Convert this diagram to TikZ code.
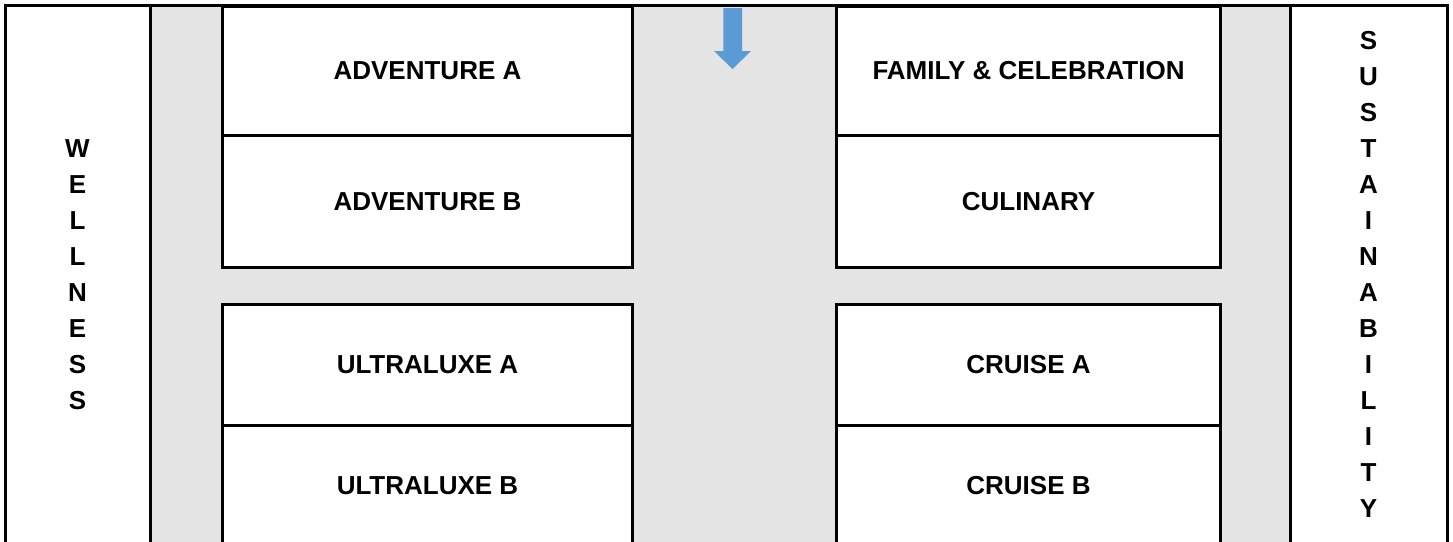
\documentclass[tikz,border=0pt]{standalone}
\usepackage{fontspec}
\setmainfont{Liberation Sans}
\definecolor{bandgray}{HTML}{E4E4E4}
\definecolor{arrowblue}{HTML}{5B9BD5}
\begin{document}
\begin{tikzpicture}[x=1pt,y=-1pt,
  frame/.style={line width=3pt},
  cell/.style={draw, fill=white, line width=3pt, anchor=north west, inner sep=0pt,
    font=\fontsize{26}{30}\selectfont\bfseries},
  vlabel/.style={align=center, inner sep=0pt, font=\fontsize{26}{36}\selectfont\bfseries}]
\useasboundingbox (0,0) rectangle (1453,541);
% gray background bands
\fill[bandgray] (150,5) rectangle (1290,548);
% left column of cells
\node[cell, minimum width=410pt, minimum height=129pt] (advA) at (221,5) {ADVENTURE A};
\node[cell, minimum width=410pt, minimum height=132pt] (advB) at (221,134) {ADVENTURE B};
\node[cell, minimum width=410pt, minimum height=121pt] (ultA) at (221,303) {ULTRALUXE A};
\node[cell, minimum width=410pt, minimum height=120pt] (ultB) at (221,424) {ULTRALUXE B};
% right column of cells
\node[cell, minimum width=384pt, minimum height=129pt] (fam) at (835,5) {FAMILY \& CELEBRATION};
\node[cell, minimum width=384pt, minimum height=132pt] (cul) at (835,134) {CULINARY};
\node[cell, minimum width=384pt, minimum height=121pt] (cruA) at (835,303) {CRUISE A};
\node[cell, minimum width=384pt, minimum height=120pt] (cruB) at (835,424) {CRUISE B};
% frame lines
\draw[frame] (5,548) -- (5,5) -- (1447,5) -- (1447,548);
\draw[frame] (150,5) -- (150,548);
\draw[frame] (1290,5) -- (1290,548);
% vertical labels
\node[vlabel] (well) at (77.5,274.5) {W\\E\\L\\L\\N\\E\\S\\S};
\node[vlabel] (sust) at (1368.5,274) {S\\U\\S\\T\\A\\I\\N\\A\\B\\I\\L\\I\\T\\Y};
% blue down arrow
\fill[arrowblue] (723.3,8) -- (742,8) -- (742,51) -- (751,51) -- (732.5,69)
  -- (714,51) -- (723.3,51) -- cycle;
\end{tikzpicture}
\end{document}
